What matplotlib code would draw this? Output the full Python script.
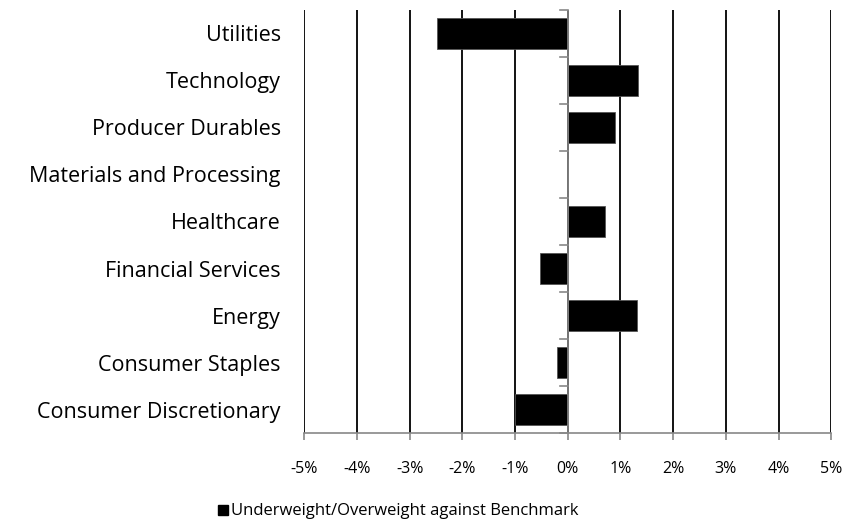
import matplotlib
matplotlib.use("Agg")
import matplotlib.pyplot as plt
from matplotlib.patches import Rectangle

plt.rcParams["font.family"] = ["Open Sans", "DejaVu Sans"]

# Data (percent)
sectors = [
    "Consumer Discretionary",
    "Consumer Staples",
    "Energy",
    "Financial Services",
    "Healthcare",
    "Materials and Processing",
    "Producer Durables",
    "Technology",
    "Utilities",
]
weights = [-1.0, -0.2, 1.31, -0.53, 0.7, 0.01, 0.9, 1.33, -2.48]
x_ticks = [-5, -4, -3, -2, -1, 0, 1, 2, 3, 4, 5]
series_name = "Underweight/Overweight against Benchmark"

fig = plt.figure(figsize=(8.43, 5.23), dpi=100)
ax = fig.add_axes([0.361, 0.172, 0.625, 0.809])

ypos = list(range(len(sectors)))
ax.barh(ypos, weights, height=0.66, color="black", edgecolor="#555555",
        linewidth=0.6, zorder=3)

ax.set_xlim(-5, 5)
ax.set_ylim(-0.5, len(sectors) - 0.5)

# vertical gridlines
for t in x_ticks:
    ax.axvline(t, color="black", lw=1.3, zorder=1)

# zero line with tick marks at category boundaries
ax.axvline(0, color="#888888", lw=1.2, zorder=4)
for k in range(len(sectors) + 1):
    ax.plot([-0.15, 0], [k - 0.5, k - 0.5], color="#888888", lw=1.2,
            zorder=4, clip_on=False)

for s in ["top", "right", "left"]:
    ax.spines[s].set_visible(False)
ax.spines["bottom"].set_color("#888888")
ax.spines["bottom"].set_linewidth(1.2)
ax.spines["bottom"].set_zorder(5)

ax.set_xticks(x_ticks)
ax.set_xticklabels([f"{t}%" for t in x_ticks], fontsize=11.5)
ax.tick_params(axis="x", length=5, color="#888888", width=1.2, pad=15)

ax.set_yticks(ypos)
ax.set_yticklabels(sectors, fontsize=15.5)
ax.tick_params(axis="y", length=0, pad=17)

# legend
fig.patches.append(Rectangle((218 / 843, 1 - 515 / 523), 10 / 843, 10 / 523,
                             transform=fig.transFigure, color="black"))
fig.text(231 / 843, 1 - 511 / 523, series_name, fontsize=12,
         va="center", ha="left")

fig.savefig("out.png", dpi=100)
